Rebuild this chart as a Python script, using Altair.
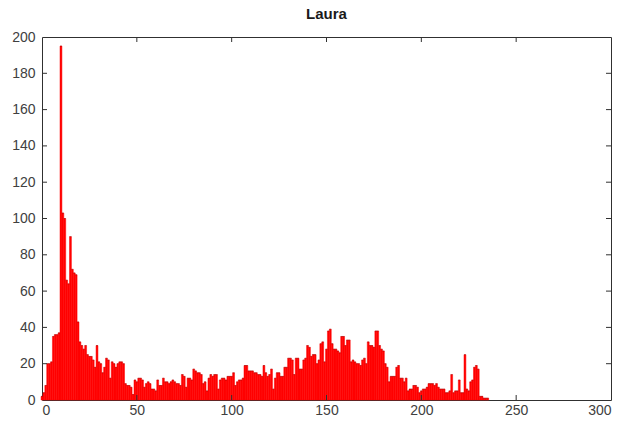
import altair as alt
import pandas as pd

# Histogram counts for intensity levels 0..235 (levels 236..255 are zero)
counts = [
    2, 4, 8, 20, 20, 21, 35, 36, 36, 37,          # 0-9
    195, 103, 100, 66, 64, 90, 72, 70, 69, 43,    # 10-19
    32, 30, 28, 30, 25, 24, 24, 22, 18, 30,       # 20-29
    21, 20, 15, 18, 23, 22, 12, 21, 20, 18,       # 30-39
    20, 21, 21, 20, 9, 8, 8, 7, 3, 11,            # 40-49
    10, 12, 12, 11, 7, 9, 10, 9, 6, 6,            # 50-59
    5, 11, 8, 8, 12, 10, 10, 9, 10, 11,           # 60-69
    10, 9, 9, 8, 14, 13, 7, 12, 12, 11,           # 70-79
    17, 16, 15, 15, 14, 9, 10, 5, 12, 14,         # 80-89
    13, 14, 14, 6, 11, 12, 12, 11, 13, 13,        # 90-99
    13, 15, 8, 10, 11, 11, 12, 19, 19, 16,        # 100-109
    16, 16, 15, 15, 14, 14, 13, 19, 15, 13,       # 110-119
    14, 17, 6, 12, 15, 15, 13, 13, 18, 18,        # 120-129
    23, 23, 22, 14, 23, 23, 17, 17, 22, 23,       # 130-139
    30, 29, 24, 25, 25, 20, 22, 31, 32, 21,       # 140-149
    28, 38, 39, 31, 28, 28, 27, 26, 35, 35,       # 150-159
    30, 33, 33, 21, 22, 21, 20, 20, 19, 22,       # 160-169
    23, 20, 32, 30, 30, 29, 38, 38, 30, 28,       # 170-179
    27, 20, 18, 10, 13, 13, 13, 18, 19, 12,       # 180-189
    12, 10, 12, 5, 6, 6, 8, 8, 7, 4,              # 190-199
    5, 6, 6, 7, 9, 9, 9, 8, 9, 7,                 # 200-209
    6, 6, 6, 4, 4, 5, 14, 4, 5, 5,                # 210-219
    11, 4, 4, 25, 6, 5, 10, 11, 18, 19,           # 220-229
    17, 2, 2, 1, 1, 1,                            # 230-235
]
levels = list(range(len(counts)))

x_ticks = [0, 50, 100, 150, 200, 250, 300]
y_ticks = [0, 20, 40, 60, 80, 100, 120, 140, 160, 180, 200]
title_text = "Laura"

W, H = 569, 363
FONT = "Liberation Sans"

df = pd.DataFrame({"level": levels, "count": counts})
df = df[df["count"] > 0]

xscale = alt.Scale(domain=[0, 300], nice=False)
yscale = alt.Scale(domain=[0, 200], nice=False)

x_axis = alt.Axis(values=x_ticks, title=None, tickSize=0, domain=False,
                  grid=False, labelPadding=3, labelFontSize=14,
                  labelOverlap=False, labelFont=FONT, labelColor="#404040")
y_axis = alt.Axis(values=y_ticks, title=None, tickSize=0, domain=False,
                  grid=False, labelPadding=7, labelFontSize=14,
                  labelOverlap=False, labelFont=FONT, labelColor="#404040")

bars = alt.Chart(df).transform_calculate(
    lo="datum.level - 0.5", hi="datum.level + 0.5"
).mark_rect(
    color="#ff0000", stroke="#ff0000", strokeWidth=0.5
).encode(
    x=alt.X("lo:Q", scale=xscale, axis=x_axis),
    x2="hi:Q",
    y=alt.Y("count:Q", scale=yscale, axis=y_axis),
    y2=alt.datum(0),
)

# thin dark outline along the top of each bar
tops = alt.Chart(df).transform_calculate(
    lo="datum.level - 0.5", hi="datum.level + 0.5"
).mark_rule(color="#600000", strokeWidth=0.6, opacity=0.6).encode(
    x=alt.X("lo:Q", scale=xscale, axis=x_axis),
    x2="hi:Q",
    y=alt.Y("count:Q", scale=yscale, axis=y_axis),
)

xt = pd.DataFrame({"t": x_ticks[1:-1]})
yt = pd.DataFrame({"t": y_ticks[1:-1]})
tick_color = "#303030"

xb = alt.Chart(xt).mark_rule(color=tick_color, strokeWidth=1).encode(
    x=alt.X("t:Q", scale=xscale, axis=x_axis), y=alt.value(H), y2=alt.value(H - 5))
xtop = alt.Chart(xt).mark_rule(color=tick_color, strokeWidth=1).encode(
    x=alt.X("t:Q", scale=xscale, axis=x_axis), y=alt.value(0), y2=alt.value(5))
yl = alt.Chart(yt).mark_rule(color=tick_color, strokeWidth=1).encode(
    y=alt.Y("t:Q", scale=yscale, axis=y_axis), x=alt.value(0), x2=alt.value(5))
yr = alt.Chart(yt).mark_rule(color=tick_color, strokeWidth=1).encode(
    y=alt.Y("t:Q", scale=yscale, axis=y_axis), x=alt.value(W), x2=alt.value(W - 5))

chart = alt.layer(bars, tops, xb, xtop, yl, yr).properties(
    width=W, height=H,
    title=alt.Title(title_text, fontSize=15, font=FONT, fontWeight="bold",
                    color="#1a1a1a", offset=8),
    autosize=alt.AutoSizeParams(type="none"),
    padding={"left": 42, "top": 37, "right": 18, "bottom": 23},
    background="white",
).configure_view(stroke="#303030", strokeWidth=1)

chart.save("out.html", embed_options={"renderer": "svg", "actions": False})
